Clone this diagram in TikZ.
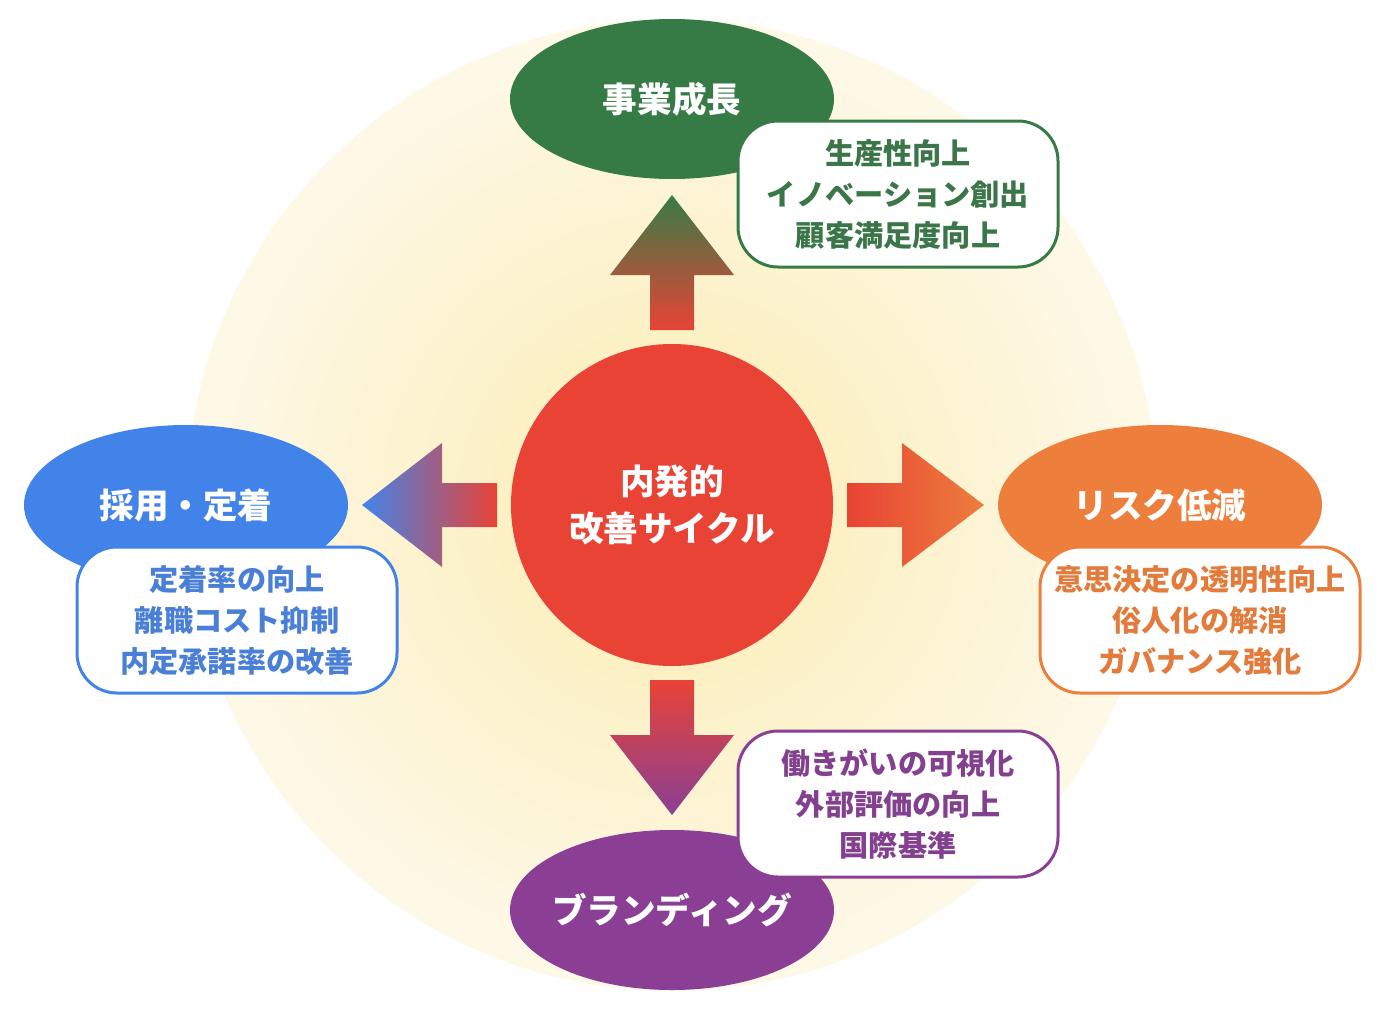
\documentclass[tikz,border=0pt]{standalone}
\usepackage{fontspec}
\setmainfont{Noto Sans CJK JP}
\usetikzlibrary{calc,shapes.geometric}

\definecolor{coreRed}{HTML}{E84335}
\definecolor{growthGreen}{HTML}{367B46}
\definecolor{growthText}{HTML}{3B7649}
\definecolor{hireBlue}{HTML}{4283EA}
\definecolor{hireText}{HTML}{4A7FD8}
\definecolor{riskOrange}{HTML}{ED7E3C}
\definecolor{riskText}{HTML}{E27B3B}
\definecolor{brandPurple}{HTML}{8A3F95}
\definecolor{brandText}{HTML}{83408E}
\definecolor{glowIn}{HTML}{FCEDAE}
\definecolor{glowMid}{HTML}{FCF1C8}
\definecolor{glowOut}{HTML}{FEF8E6}
\pgfdeclareradialshading{glow}{\pgfpoint{0bp}{0bp}}{color(0bp)=(glowIn); color(10bp)=(glowMid); color(24bp)=(glowOut); color(50bp)=(glowOut)}

\begin{document}
\begin{tikzpicture}[x=0.5pt,y=-0.5pt,
  goal/.style={ellipse,minimum width=162pt,minimum height=80pt,inner xsep=-12pt,inner ysep=0pt,
    text=white,font=\bfseries\fontsize{17.3}{20}\selectfont},
  benefit/.style={draw,line width=1.5pt,rounded corners=20pt,fill=white,minimum width=160pt,
    minimum height=73pt,inner sep=0pt,align=center,font=\bfseries\fontsize{14.6}{20.5}\selectfont}]
  \useasboundingbox (0,0) rectangle (1395,1011);
  % soft background
  \shade[shading=glow] (672,505) circle (486);

  \node[circle,fill=coreRed,minimum size=161pt,inner sep=0pt,text=white,align=center,
    font=\bfseries\fontsize{17.3}{23.5}\selectfont] (core) at (672,505) {内発的\\改善サイクル};

  % arrows out of the cycle
  \shade[top color=growthGreen,bottom color=coreRed]
    ($(core)+(-22,-175)$) -- ($(core)+(-22,-230)$) -- ($(core)+(-62,-230)$) -- ($(core)+(0,-310)$)
    -- ($(core)+(62,-230)$) -- ($(core)+(22,-230)$) -- ($(core)+(22,-175)$) -- cycle;
  \shade[top color=coreRed,bottom color=brandPurple]
    ($(core)+(-22,175)$) -- ($(core)+(-22,230)$) -- ($(core)+(-62,230)$) -- ($(core)+(0,310)$)
    -- ($(core)+(62,230)$) -- ($(core)+(22,230)$) -- ($(core)+(22,175)$) -- cycle;
  \shade[left color=hireBlue,right color=coreRed]
    ($(core)+(-175,-22)$) -- ($(core)+(-230,-22)$) -- ($(core)+(-230,-62)$) -- ($(core)+(-310,0)$)
    -- ($(core)+(-230,62)$) -- ($(core)+(-230,22)$) -- ($(core)+(-175,22)$) -- cycle;
  \shade[left color=coreRed,right color=riskOrange]
    ($(core)+(175,-22)$) -- ($(core)+(230,-22)$) -- ($(core)+(230,-62)$) -- ($(core)+(312,0)$)
    -- ($(core)+(230,62)$) -- ($(core)+(230,22)$) -- ($(core)+(175,22)$) -- cycle;

  % goals
  \node[goal,fill=growthGreen] (growth) at (672,99) {事業成長};
  \node[goal,fill=hireBlue] (hire) at (186,505) {採用・定着};
  \node[goal,fill=riskOrange] (risk) at (1160,505) {リスク低減};
  \node[goal,fill=brandPurple] (brand) at (672,910) {ブランディング};

  % effects
  \node[benefit,draw=growthGreen,text=growthText] (growthfx) at (898,194)
    {生産性向上\\イノベーション創出\\顧客満足度向上};
  \node[benefit,draw=hireBlue,text=hireText] (hirefx) at (237,620)
    {定着率の向上\\離職コスト抑制\\内定承諾率の改善};
  \node[benefit,draw=riskOrange,text=riskText] (riskfx) at (1200,620)
    {意思決定の透明性向上\\俗人化の解消\\ガバナンス強化};
  \node[benefit,draw=brandPurple,text=brandText] (brandfx) at (898,804)
    {働きがいの可視化\\外部評価の向上\\国際基準};
\end{tikzpicture}
\end{document}
